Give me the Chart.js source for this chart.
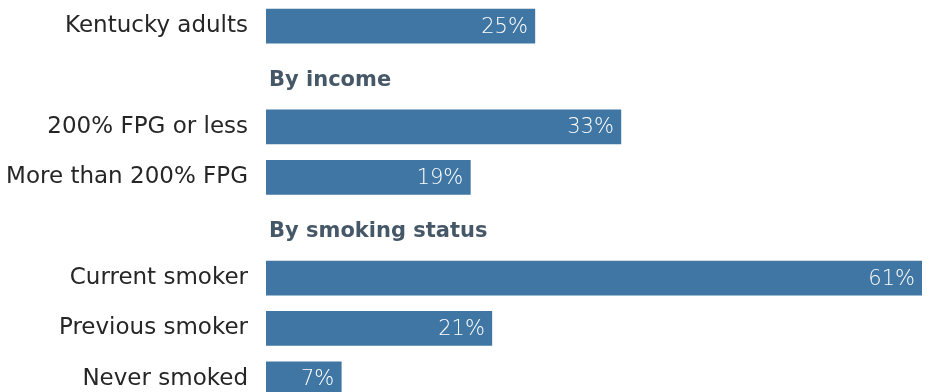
<!DOCTYPE html>
<html>
<head>
<meta charset="utf-8">
<script src="https://cdn.jsdelivr.net/npm/chart.js@4"></script>
<style>
    html, body { margin: 0; padding: 0; background: #fff; overflow: hidden; height: 392px; }
    #wrap { position: absolute; left: 0; top: 0; width: 934px; height: 404px; }
</style>
</head>
<body>
<div id="wrap"><canvas id="chart"></canvas></div>
<script>
// rows of the chart, section headers included (they carry no bar)
const categories = ['Kentucky adults', 'By income', '200% FPG or less', 'More than 200% FPG',
    'By smoking status', 'Current smoker', 'Previous smoker', 'Never smoked'];
const headerRows = ['By income', 'By smoking status'];
const values = [25, null, 33, 19, null, 61, 21, 7];

const barColor = '#3f76a3';
const fontFamily = '"DejaVu Sans", sans-serif';

// white value labels inside the bar end
const valueLabels = {
    id: 'valueLabels',
    afterDatasetsDraw(chart) {
        const ctx = chart.ctx;
        const meta = chart.getDatasetMeta(0);
        ctx.save();
        ctx.font = '200 21px ' + fontFamily;
        ctx.fillStyle = '#fff';
        ctx.textAlign = 'right';
        ctx.textBaseline = 'middle';
        meta.data.forEach((bar, i) => {
            if (values[i] == null) return;
            ctx.fillText(values[i] + '%', bar.x - 7, bar.y + 1);
        });
        ctx.restore();
    }
};

// bold section headers, placed where the bars begin
const sectionHeaders = {
    id: 'sectionHeaders',
    afterDraw(chart) {
        const ctx = chart.ctx;
        const y = chart.scales.y;
        ctx.save();
        ctx.font = 'bold 21px ' + fontFamily;
        ctx.fillStyle = '#465868';
        ctx.textAlign = 'left';
        ctx.textBaseline = 'middle';
        headerRows.forEach(h => {
            const idx = categories.indexOf(h);
            ctx.fillText(h, chart.chartArea.left + 3, y.getPixelForValue(idx) + 4);
        });
        ctx.restore();
    }
};

new Chart(document.getElementById('chart'), {
    type: 'bar',
    data: {
        labels: categories,
        datasets: [{
            data: values,
            backgroundColor: barColor,
            barThickness: 34
        }]
    },
    options: {
        indexAxis: 'y',
        responsive: true,
        maintainAspectRatio: false,
        animation: false,
        layout: { padding: { top: 1, bottom: 0, right: 12, left: 0 } },
        plugins: { legend: { display: false }, tooltip: { enabled: false } },
        scales: {
            x: { display: false, min: 0, max: 61 },
            y: {
                grid: { display: false, drawTicks: false },
                border: { display: false },
                afterFit(scale) {
                    scale.width = 266;
                    // tick padding should only push labels sideways
                    scale.paddingTop = 0;
                    scale.paddingBottom = 0;
                },
                ticks: {
                    padding: 18,
                    color: '#262626',
                    font: { family: fontFamily, size: 23 },
                    callback(value) {
                        const label = categories[value];
                        return headerRows.includes(label) ? '' : label;
                    }
                }
            }
        }
    },
    plugins: [valueLabels, sectionHeaders]
});
</script>
</body>
</html>
